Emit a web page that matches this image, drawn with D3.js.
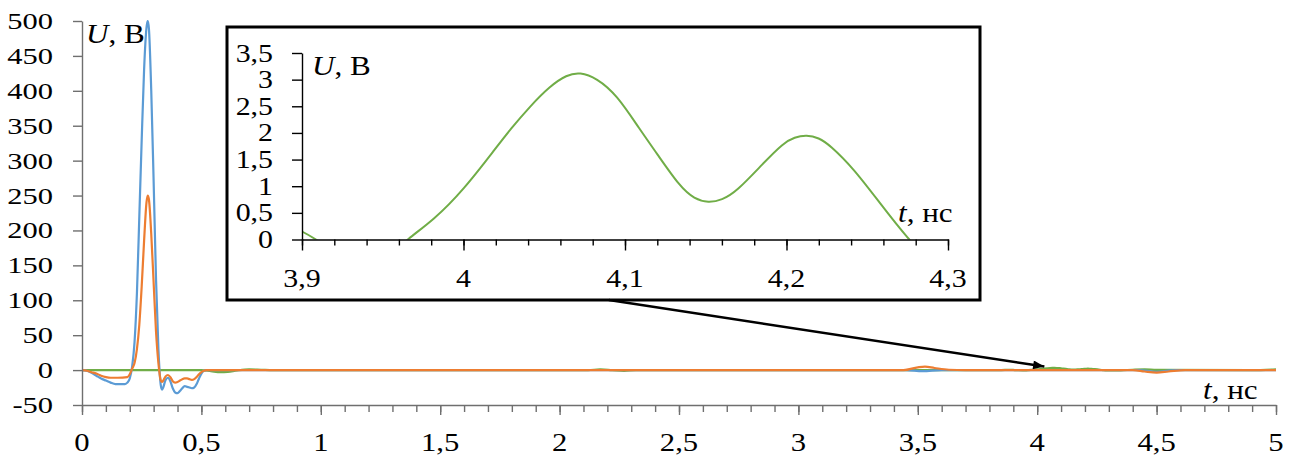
<!DOCTYPE html>
<html>
<head>
<meta charset="utf-8">
<script src="https://cdn.jsdelivr.net/npm/d3@7"></script>
<style>
  html, body { margin: 0; padding: 0; background: #fff; }
  svg { display: block; font-family: "Liberation Serif", "Times New Roman", serif; }
</style>
</head>
<body>
<svg id="chart" width="1293" height="457"></svg>
<script>
// ---- data: voltage U (V) versus time t (ns) ----
const tBlue = [0, 0.02, 0.04, 0.06, 0.08, 0.10, 0.12, 0.14, 0.16, 0.18, 0.19, 0.20, 0.21, 0.22, 0.23, 0.24, 0.25, 0.26, 0.27, 0.275, 0.28, 0.29, 0.30, 0.31, 0.32, 0.33, 0.335, 0.34, 0.35, 0.36, 0.37, 0.38, 0.39, 0.40, 0.41, 0.42, 0.43, 0.44, 0.45, 0.46, 0.47, 0.48, 0.49, 0.50, 0.51, 0.52, 3.45, 3.52, 3.60, 4.42, 4.50, 4.58, 5.0];
const uBlue = [0, -1, -4, -8, -12, -15, -18, -20, -20, -20, -18, -12, 5, 40, 110, 220, 330, 430, 490, 500, 490, 400, 270, 130, 30, -22, -28, -25, -14, -11, -16, -26, -32, -33, -30, -26, -23, -24, -25, -26, -25, -20, -12, -5, -1, 0, 0, -1.5, 0, 0, -2.5, 0, 0];

const tOrange = [0, 0.02, 0.04, 0.06, 0.08, 0.10, 0.12, 0.15, 0.19, 0.20, 0.21, 0.22, 0.23, 0.24, 0.25, 0.26, 0.27, 0.275, 0.28, 0.29, 0.30, 0.31, 0.32, 0.33, 0.335, 0.34, 0.35, 0.36, 0.37, 0.38, 0.39, 0.40, 0.41, 0.42, 0.43, 0.44, 0.45, 0.46, 0.47, 0.48, 0.49, 0.50, 0.51, 0.52, 3.44, 3.50, 3.53, 3.57, 3.63, 3.70, 4.40, 4.45, 4.50, 4.55, 4.62, 5.0];
const uOrange = [0, -1, -3, -5, -8, -10, -11, -11, -10, -6, 2, 10, 30, 65, 120, 185, 240, 250, 245, 195, 125, 55, 10, -15, -17, -15, -9, -7, -10, -16, -18, -17, -15, -13, -12, -12, -13, -14, -13, -10, -6, -3, -1, 0, 0, 4, 5, 3, 0.5, 0, 0, -2, -3.5, -2, 0, 0];

const tGreen = [0, 0.50, 0.54, 0.58, 0.61, 0.65, 0.70, 0.75, 0.80, 2.12, 2.17, 2.22, 2.27, 2.32, 3.85, 3.88, 3.90, 3.91, 3.92, 3.94, 3.955, 3.9648, 3.9813, 4.0, 4.0206, 4.0288, 4.0412, 4.0536, 4.0639, 4.0721, 4.0824, 4.0948, 4.1093, 4.1196, 4.134, 4.143, 4.1516, 4.160, 4.1691, 4.1856, 4.198, 4.205, 4.2124, 4.220, 4.2269, 4.2413, 4.2579, 4.2754, 4.29, 4.31, 4.35, 4.40, 4.45, 4.50, 4.90, 5.0];
const uGreen = [0, 0, -1.5, -3, -2.5, -0.5, 1, 0.5, 0, 0, 1, 0, -1, 0, 0, 0.4, 0.17, -0.03, -0.2, -0.4, -0.3, 0, 0.36, 0.93, 1.74, 2.06, 2.50, 2.88, 3.09, 3.14, 3.03, 2.72, 2.06, 1.62, 0.99, 0.76, 0.69, 0.74, 0.90, 1.43, 1.81, 1.92, 1.96, 1.91, 1.77, 1.34, 0.68, 0, -0.45, -0.6, -0.3, 0.5, 1, 0.3, 0, 1];

// ---- tick labels ----
const xTicks = [0, 0.5, 1, 1.5, 2, 2.5, 3, 3.5, 4, 4.5, 5];
const xTickLabels = ["0", "0,5", "1", "1,5", "2", "2,5", "3", "3,5", "4", "4,5", "5"];
const yTicks = [-50, 0, 50, 100, 150, 200, 250, 300, 350, 400, 450, 500];
const yTickLabels = ["-50", "0", "50", "100", "150", "200", "250", "300", "350", "400", "450", "500"];

const insetXTicks = [3.9, 4.0, 4.1, 4.2, 4.3];
const insetXTickLabels = ["3,9", "4", "4,1", "4,2", "4,3"];
const insetYTicks = [0, 0.5, 1, 1.5, 2, 2.5, 3, 3.5];
const insetYTickLabels = ["0", "0,5", "1", "1,5", "2", "2,5", "3", "3,5"];

const colors = { blue: "#5B9BD5", orange: "#ED7D31", green: "#70AD47" };

const svg = d3.select("#chart");
const defs = svg.append("defs");

const zip = (ts, us) => ts.map((t, i) => ({ t, u: us[i] }));
const series = [
  { key: "green",  data: zip(tGreen, uGreen) },
  { key: "blue",   data: zip(tBlue, uBlue) },
  { key: "orange", data: zip(tOrange, uOrange) }
];

// helper: horizontally stretched text
function label(g, x, y, text, size, anchor, stretch = 1.15) {
  return g.append("text")
    .attr("transform", `translate(${x},${y}) scale(${stretch},1)`)
    .attr("text-anchor", anchor)
    .attr("font-size", size)
    .attr("fill", "#000")
    .text(text);
}
function title(g, x, y, italicPart, rest, size) {
  const t = g.append("text")
    .attr("transform", `translate(${x},${y}) scale(1.15,1)`)
    .attr("font-size", size)
    .attr("fill", "#000");
  t.append("tspan").attr("font-style", "italic").text(italicPart);
  t.append("tspan").text(rest);
  return t;
}

// ================= main chart =================
const x = d3.scaleLinear().domain([0, 5]).range([82, 1276]);
const y = d3.scaleLinear().domain([-50, 500]).range([405, 21]);
const axisColor = "#6f6f6f";

defs.append("clipPath").attr("id", "mainClip")
  .append("rect").attr("x", x(0)).attr("y", y(500) - 1)
  .attr("width", x(5) - x(0)).attr("height", y(-50) - y(500) + 1);

const main = svg.append("g");

// series
const line = d3.line().x(d => x(d.t)).y(d => y(d.u)).curve(d3.curveMonotoneX);
main.append("g").attr("clip-path", "url(#mainClip)")
  .selectAll("path").data(series).join("path")
  .attr("d", d => line(d.data))
  .attr("fill", "none")
  .attr("stroke", d => colors[d.key])
  .attr("stroke-width", 2.2)
  .attr("stroke-linejoin", "round");

// x axis: minor ticks every 0.1, longer ticks at labelled values
const minorX = d3.range(0, 51).map(i => i / 10);
const gx = main.append("g").attr("transform", `translate(0,${y(-50)})`);
gx.append("g").call(d3.axisBottom(x).tickValues(minorX).tickSize(7).tickSizeOuter(0).tickFormat(""));
gx.append("g").call(d3.axisBottom(x).tickValues(xTicks).tickSize(10).tickSizeOuter(0).tickFormat(""))
  .select(".domain").remove();
gx.selectAll("path, line").attr("stroke", axisColor).attr("stroke-width", 1.4);

// y axis
const gy = main.append("g").attr("transform", `translate(${x(0)},0)`)
  .call(d3.axisLeft(y).tickValues(yTicks).tickSize(9).tickSizeOuter(0).tickFormat(""));
gy.selectAll("path, line").attr("stroke", axisColor).attr("stroke-width", 1.4);

// tick labels
xTicks.forEach((v, i) => label(main, x(v), 451, xTickLabels[i], 26, "middle", 1.18));
yTicks.forEach((v, i) => label(main, 53, y(v) + 8, yTickLabels[i], 24, "end", 1.27));

// axis titles
title(main, 86, 43, "U", ", В", 27);
title(main, 1203, 399, "t", ", нс", 27);

// ================= inset =================
const box = { left: 227, top: 27, right: 980, bottom: 300 };
const ix = d3.scaleLinear().domain([3.9, 4.3]).range([302, 948]);
const iy = d3.scaleLinear().domain([0, 3.5]).range([239.5, 53]);

const inset = svg.append("g");
inset.append("rect")
  .attr("x", box.left).attr("y", box.top)
  .attr("width", box.right - box.left).attr("height", box.bottom - box.top)
  .attr("fill", "#fff").attr("stroke", "#000").attr("stroke-width", 3);

defs.append("clipPath").attr("id", "insetClip")
  .append("rect").attr("x", ix(3.9)).attr("y", iy(3.5))
  .attr("width", ix(4.3) - ix(3.9)).attr("height", iy(0) - iy(3.5));

const iline = d3.line().x(d => ix(d.t)).y(d => iy(d.u)).curve(d3.curveBasis);
const greenWindow = series[0].data.filter(d => d.t >= 3.85 && d.t <= 4.35);
inset.append("path")
  .attr("clip-path", "url(#insetClip)")
  .attr("d", iline(greenWindow))
  .attr("fill", "none")
  .attr("stroke", colors.green)
  .attr("stroke-width", 2);

const minorIX = d3.range(0, 21).map(i => 3.9 + i * 0.02);
const gix = inset.append("g").attr("transform", `translate(0,${iy(0)})`);
gix.append("g").call(d3.axisBottom(ix).tickValues(minorIX).tickSize(6).tickSizeOuter(0).tickFormat(""));
gix.append("g").call(d3.axisBottom(ix).tickValues(insetXTicks).tickSize(11).tickSizeOuter(0).tickFormat(""))
  .select(".domain").remove();
gix.selectAll("path, line").attr("stroke", "#000").attr("stroke-width", 1.4);

const giy = inset.append("g").attr("transform", `translate(${ix(3.9)},0)`)
  .call(d3.axisLeft(iy).tickValues(insetYTicks).tickSize(10).tickSizeOuter(0).tickFormat(""));
giy.selectAll("path, line").attr("stroke", "#000").attr("stroke-width", 1.4);

insetXTicks.forEach((v, i) => label(inset, ix(v), 287, insetXTickLabels[i], 26, "middle"));
insetYTicks.forEach((v, i) => label(inset, 273, iy(v) + 8.5, insetYTickLabels[i], 26, "end"));

title(inset, 312, 75, "U", ", В", 27);
title(inset, 898, 222, "t", ", нс", 27);

// ================= pointer from inset to the zoomed region =================
defs.append("marker").attr("id", "arrowHead")
  .attr("viewBox", "0 0 10 8").attr("refX", 10).attr("refY", 4)
  .attr("markerUnits", "userSpaceOnUse")
  .attr("markerWidth", 16).attr("markerHeight", 9).attr("orient", "auto")
  .append("path").attr("d", "M0,0 L10,4 L0,8 Z").attr("fill", "#000");

svg.append("line")
  .attr("x1", ix(4.09)).attr("y1", box.bottom)
  .attr("x2", x(4.03)).attr("y2", y(5))
  .attr("stroke", "#000").attr("stroke-width", 2.5)
  .attr("marker-end", "url(#arrowHead)");
</script>
</body>
</html>
